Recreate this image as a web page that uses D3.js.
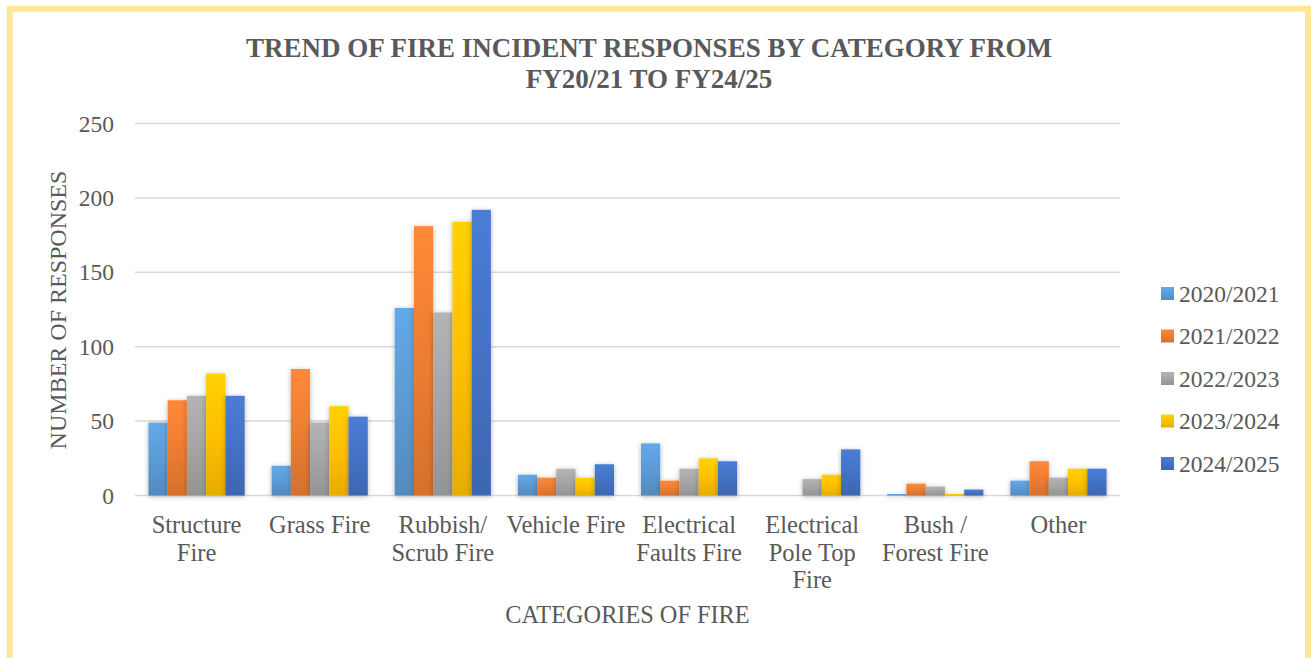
<!DOCTYPE html>
<html>
<head>
<meta charset="utf-8">
<script src="https://cdn.jsdelivr.net/npm/d3@7"></script>
<style>
  body { margin: 0; background: #fff; }
  svg { display: block; }
</style>
</head>
<body>
<div id="chart"></div>
<script>
const categories = [
  ["Structure", "Fire"],
  ["Grass Fire"],
  ["Rubbish/", "Scrub Fire"],
  ["Vehicle Fire"],
  ["Electrical", "Faults Fire"],
  ["Electrical", "Pole Top", "Fire"],
  ["Bush /", "Forest Fire"],
  ["Other"]
];
const years = ["2020/2021", "2021/2022", "2022/2023", "2023/2024", "2024/2025"];
const fy2021 = [49, 20, 126, 14, 35, 0, 1, 10];
const fy2122 = [64, 85, 181, 12, 10, 0, 8, 23];
const fy2223 = [67, 49, 123, 18, 18, 11, 6, 12];
const fy2324 = [82, 60, 184, 12, 25, 14, 1, 18];
const fy2425 = [67, 53, 192, 21, 23, 31, 4, 18];
const yTicks = [0, 50, 100, 150, 200, 250];

const series = [fy2021, fy2122, fy2223, fy2324, fy2425];
const colors = ["#5B9BD5", "#ED7D31", "#A5A5A5", "#FFC000", "#4472C4"];

const width = 1311, height = 658;
const margin = {left: 135, right: 191, top: 123.5, bottom: 162.5};
const textColor = "#595959";
const font = "'Liberation Serif', 'Times New Roman', serif";

const svg = d3.select("#chart").append("svg")
  .attr("width", width)
  .attr("height", height);

const defs = svg.append("defs");
colors.forEach((c, i) => {
  const g = defs.append("linearGradient")
    .attr("id", "grad" + i)
    .attr("x1", 0).attr("y1", 0).attr("x2", 0).attr("y2", 1);
  g.append("stop").attr("offset", "0%").attr("stop-color", d3.color(c).brighter(0.25));
  g.append("stop").attr("offset", "50%").attr("stop-color", c);
  g.append("stop").attr("offset", "100%").attr("stop-color", d3.color(c).darker(0.3));
});
defs.append("filter")
  .attr("id", "shadow")
  .attr("x", "-30%").attr("y", "-10%").attr("width", "160%").attr("height", "130%")
  .append("feDropShadow")
  .attr("dx", 0).attr("dy", 1)
  .attr("stdDeviation", 2.5)
  .attr("flood-color", "#000")
  .attr("flood-opacity", 0.3);

// yellow frame
svg.append("rect")
  .attr("x", 9.7).attr("y", 8.7)
  .attr("width", 1298.3).attr("height", 670)
  .attr("fill", "#fff")
  .attr("stroke", "#FFE699")
  .attr("stroke-width", 6);

const x = d3.scaleBand()
  .domain(d3.range(categories.length))
  .range([margin.left, width - margin.right])
  .paddingInner(1.4 / 6.4)
  .paddingOuter(0.7 / 6.4);

const xs = d3.scaleBand()
  .domain(d3.range(years.length))
  .range([0, x.bandwidth()]);

const y = d3.scaleLinear()
  .domain([0, 250])
  .range([height - margin.bottom, margin.top]);

// gridlines
svg.append("g")
  .selectAll("line")
  .data(yTicks)
  .join("line")
  .attr("x1", margin.left)
  .attr("x2", width - margin.right)
  .attr("y1", d => y(d))
  .attr("y2", d => y(d))
  .attr("stroke", "#D9D9D9")
  .attr("stroke-width", 1.5);

// y axis labels
const yAxis = svg.append("g")
  .attr("transform", `translate(${margin.left - 21},0)`)
  .call(d3.axisLeft(y).tickValues(yTicks).tickSize(0).tickPadding(0));
yAxis.select(".domain").remove();
yAxis.selectAll("text")
  .attr("font-family", font)
  .attr("font-size", 23.5)
  .attr("fill", textColor);

// bars
const groups = svg.append("g")
  .selectAll("g")
  .data(series)
  .join("g")
  .attr("fill", (d, i) => `url(#grad${i})`)
  .attr("filter", "url(#shadow)");

groups.each(function(vals, si) {
  d3.select(this).selectAll("rect")
    .data(vals)
    .join("rect")
    .attr("x", (d, ci) => x(ci) + xs(si))
    .attr("width", xs.bandwidth())
    .attr("y", d => y(d))
    .attr("height", d => y(0) - y(d));
});

// category labels
const catLabels = svg.append("g")
  .selectAll("text")
  .data(categories)
  .join("text")
  .attr("x", (d, i) => x(i) + x.bandwidth() / 2)
  .attr("y", 533)
  .attr("text-anchor", "middle")
  .attr("font-family", font)
  .attr("font-size", 24.5)
  .attr("fill", textColor);
catLabels.selectAll("tspan")
  .data(d => d)
  .join("tspan")
  .attr("x", function() { return this.parentNode.getAttribute("x"); })
  .attr("dy", (d, i) => i === 0 ? 0 : 27.5)
  .text(d => d);

// title
const title = svg.append("text")
  .attr("text-anchor", "middle")
  .attr("font-family", font)
  .attr("font-weight", "bold")
  .attr("font-size", 27)
  .attr("fill", textColor);
title.append("tspan").attr("x", 649).attr("y", 57)
  .text("TREND OF FIRE INCIDENT RESPONSES BY CATEGORY FROM");
title.append("tspan").attr("x", 649).attr("y", 88)
  .text("FY20/21 TO FY24/25");

// axis titles
svg.append("text")
  .attr("x", 627.5).attr("y", 622.5)
  .attr("text-anchor", "middle")
  .attr("font-family", font)
  .attr("font-size", 24.3)
  .attr("fill", textColor)
  .text("CATEGORIES OF FIRE");

svg.append("text")
  .attr("transform", "translate(65.5,310) rotate(-90)")
  .attr("text-anchor", "middle")
  .attr("font-family", font)
  .attr("font-size", 24)
  .attr("fill", textColor)
  .text("NUMBER OF RESPONSES");

// legend
const legend = svg.append("g")
  .selectAll("g")
  .data(years)
  .join("g")
  .attr("transform", (d, i) => `translate(1161,${293.5 + i * 42.5})`);
legend.append("rect")
  .attr("y", -6.5)
  .attr("width", 13).attr("height", 13)
  .attr("fill", (d, i) => `url(#grad${i})`);
legend.append("text")
  .attr("x", 18)
  .attr("dy", "0.35em")
  .attr("font-family", font)
  .attr("font-size", 23.5)
  .attr("fill", textColor)
  .text(d => d);
</script>
</body>
</html>
